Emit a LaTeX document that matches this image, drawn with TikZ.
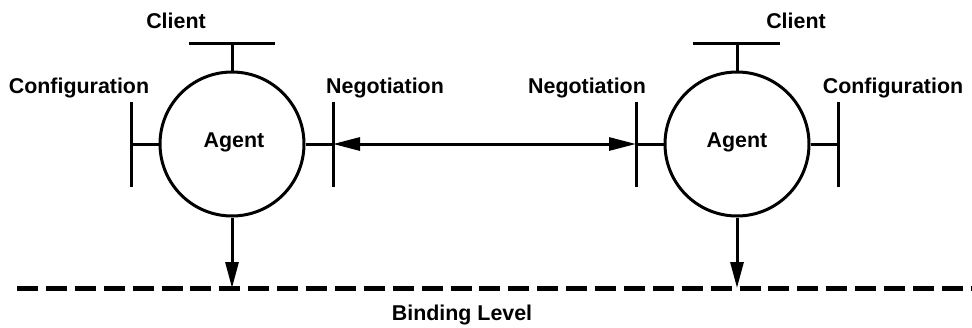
\documentclass[tikz,border=0pt]{standalone}
\usepackage{fontspec}
\setmainfont{Liberation Sans}
\usetikzlibrary{arrows.meta}
\begin{document}
\begin{tikzpicture}[x=1pt,y=-1pt,
  line width=3pt,
  agent/.style={circle,draw,line width=3pt,minimum size=144pt,inner sep=0pt},
  lbl/.style={anchor=base,inner sep=0pt,font=\fontsize{21.4}{25}\selectfont\bfseries},
  bar/.style={line width=3pt},
  tip/.style={-{Triangle[length=26pt,width=13pt]}},
  level/.style={line width=5pt,dash pattern=on 21pt off 7.9pt}
]
\useasboundingbox (0,0) rectangle (972,327);

% the two agents
\node[agent] (agentL) at (232,144) {};
\node[agent] (agentR) at (737,144) {};
\node[lbl] (agentLtxt) at (234,147) {Agent};
\node[lbl] (agentRtxt) at (737,147) {Agent};

% interface bars: client (top), configuration and negotiation (sides)
\coordinate (cliL) at (232,43);
\coordinate (cliR) at (737,43);
\coordinate (cfgL) at (131,144);
\coordinate (cfgR) at (838,144);
\coordinate (negL) at (333,144);
\coordinate (negR) at (636,144);

\draw[bar] (189,43) -- (275,43);
\draw[bar] (693,43) -- (780,43);
\draw[bar] (131,102) -- (131,187);
\draw[bar] (838,102) -- (838,187);
\draw[bar] (333,102) -- (333,187);
\draw[bar] (636,102) -- (636,187);

\draw (agentL.north) -- (cliL);
\draw (agentR.north) -- (cliR);
\draw (agentL.west) -- (cfgL);
\draw (agentR.east) -- (cfgR);
\draw (agentL.east) -- (negL);
\draw (agentR.west) -- (negR);

% negotiation between the agents
\draw[{Triangle[length=27pt,width=13pt]}-{Triangle[length=27pt,width=13pt]}] (negL) -- (negR);

% binding level
\coordinate (bindA) at (17,288);
\coordinate (bindB) at (972,288);
\draw[level] (bindA) -- (bindB);
\coordinate (bindL) at (232,288);
\coordinate (bindR) at (737,288);
\draw[tip] (agentL.south) -- (bindL);
\draw[tip] (agentR.south) -- (bindR);

% labels
\node[lbl] (tCliL) at (176,28) {Client};
\node[lbl] (tCliR) at (796,28) {Client};
\node[lbl] (tCfgL) at (79,93) {Configuration};
\node[lbl] (tCfgR) at (893,93) {Configuration};
\node[lbl] (tNegL) at (385,93) {Negotiation};
\node[lbl] (tNegR) at (587,93) {Negotiation};
\node[lbl] (tBind) at (462,320) {Binding Level};
\end{tikzpicture}
\end{document}
